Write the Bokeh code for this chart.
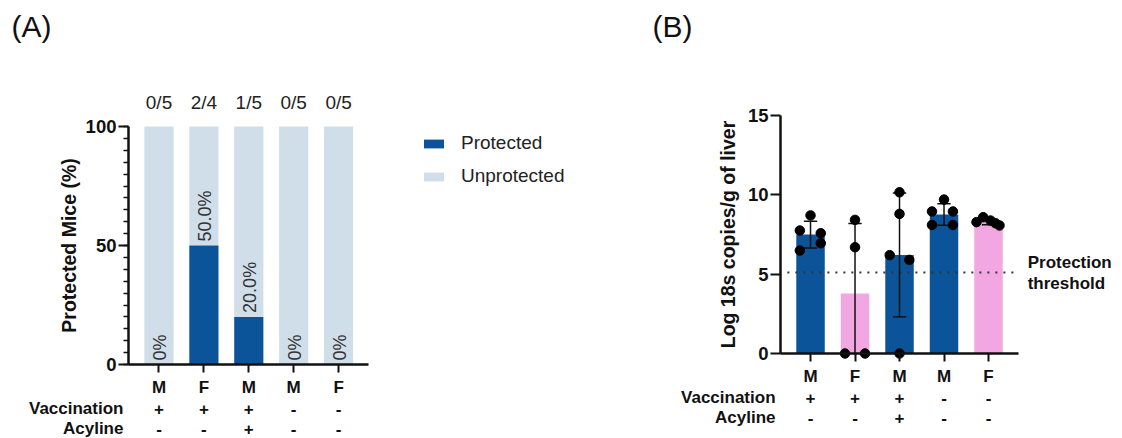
import math
import numpy as np
from bokeh.plotting import figure
from bokeh.layouts import row
from bokeh.models import Range1d, FixedTicker, ColumnDataSource, Legend, LegendItem
from bokeh.core.properties import value
from bokeh.embed import file_html
from bokeh.resources import INLINE

# ---------------- data ----------------
sex = ["M", "F", "M", "M", "F"]
vaccination = ["+", "+", "+", "-", "-"]
acyline = ["-", "-", "+", "-", "-"]
protected_n = [0, 2, 1, 0, 0]
total_n = [5, 4, 5, 5, 5]

liver_g1 = [8.7, 7.75, 7.58, 6.49, 6.95]
liver_g2 = [8.42, 6.7, 0.0, 0.0]
liver_g3 = [10.16, 8.8, 6.2, 5.9, 0.0]
liver_g4 = [9.7, 8.95, 8.95, 8.1, 8.1]
liver_g5 = [8.28, 8.59, 8.38, 8.21, 8.07]
threshold = 5.1
threshold_label = ["Protection", "threshold"]

# ---------------- style ----------------
FONT = "Liberation Sans"
DARK = "#0b5499"
LIGHT = "#d0deea"
PINK = "#f2a7e2"
INK = "#111111"
bar_colors_B = [DARK if s == "M" else PINK for s in sex]

xs = list(range(len(sex)))


def style_axes(p, yticks, yminor, ybounds, xaxis_left, xaxis_right, ylabel, label_standoff):
    yax = p.yaxis[0]
    xax = p.xaxis[0]
    yax.fixed_location = xaxis_left
    yax.bounds = ybounds
    yax.ticker = FixedTicker(ticks=yticks, minor_ticks=yminor)
    yax.axis_line_width = 2.5
    yax.axis_line_color = INK
    yax.major_tick_line_width = 2
    yax.major_tick_line_color = INK
    yax.minor_tick_line_width = 1.5
    yax.minor_tick_line_color = INK
    yax.major_tick_out = 10
    yax.major_tick_in = 0
    yax.minor_tick_out = 5
    yax.minor_tick_in = 0
    yax.major_label_text_font = FONT
    yax.major_label_text_font_style = "bold"
    yax.major_label_text_font_size = "18.5px"
    yax.major_label_text_color = INK
    yax.major_label_standoff = 2
    yax.axis_label = ylabel
    yax.axis_label_text_font = FONT
    yax.axis_label_text_font_style = "bold"
    yax.axis_label_text_font_size = "19.5px"
    yax.axis_label_text_color = INK
    yax.axis_label_standoff = label_standoff

    xax.fixed_location = 0
    xax.bounds = (xaxis_left, xaxis_right)
    xax.ticker = FixedTicker(ticks=xs, minor_ticks=[])
    xax.major_label_overrides = {i: s for i, s in enumerate(sex)}
    xax.axis_line_width = 2.5
    xax.axis_line_color = INK
    xax.major_tick_line_width = 2
    xax.major_tick_line_color = INK
    xax.major_tick_out = 8
    xax.major_tick_in = 0
    xax.minor_tick_out = 0
    xax.major_label_text_font = FONT
    xax.major_label_text_font_style = "bold"
    xax.major_label_text_font_size = "17px"
    xax.major_label_text_color = INK
    xax.major_label_standoff = 5

    p.grid.visible = False

    # treatment rows under the categories
    rows_src = ColumnDataSource(dict(x=xs, y=[0] * len(xs), v=vaccination, a=acyline))
    p.text(x="x", y="y", text="v", source=rows_src, y_offset=44, text_align="center",
           text_baseline="middle", text_font=value(FONT), text_font_style="bold",
           text_font_size="17px", text_color=INK)
    p.text(x="x", y="y", text="a", source=rows_src, y_offset=64, text_align="center",
           text_baseline="middle", text_font=value(FONT), text_font_style="bold",
           text_font_size="17px", text_color=INK)
    p.text(x=[xaxis_left, xaxis_left], y=[0, 0], text=["Vaccination", "Acyline"],
           x_offset=-5, y_offset=[44, 64], text_align="right", text_baseline="middle",
           text_font=value(FONT), text_font_style="bold", text_font_size="17px",
           text_color=INK)


def panel_tag(p, tag, dx):
    p.text(x=[p.x_range.start], y=[p.y_range.end], text=[tag], x_offset=dx, y_offset=26,
           text_align="left", text_baseline="middle", text_font=value(FONT),
           text_font_size="30px", text_color=INK)


def new_fig(w, xr, yr):
    p = figure(width=w, height=438, x_range=Range1d(*xr), y_range=Range1d(*yr),
               output_backend="svg", toolbar_location=None, min_border=0,
               outline_line_color=None, background_fill_color="white",
               border_fill_color="white")
    return p


# ---------------- panel A ----------------
pct = [100.0 * k / n for k, n in zip(protected_n, total_n)]
pct_txt = ["0%" if v == 0 else "%.1f%%" % v for v in pct]
frac_txt = ["%d/%d" % (k, n) for k, n in zip(protected_n, total_n)]

pA = new_fig(580, (-3.53, 9.388), (-31.09, 152.94))
srcA = ColumnDataSource(dict(x=xs, pct=pct, full=[100.0] * len(xs), pt=pct_txt, ft=frac_txt,
                             top100=[100.0] * len(xs)))
r_unp = pA.vbar(x="x", bottom="pct", top="full", width=0.65, source=srcA,
                fill_color=LIGHT, line_color=None)
r_pro = pA.vbar(x="x", bottom=0, top="pct", width=0.65, source=srcA,
                fill_color=DARK, line_color=None)
pA.text(x="x", y="pct", text="pt", source=srcA, angle=math.pi / 2, x_offset=1, y_offset=-4,
        text_align="left", text_baseline="middle", text_font=value(FONT),
        text_font_size="18px", text_color="#333333")
pA.text(x="x", y="top100", text="ft", source=srcA, y_offset=-24, text_align="center",
        text_baseline="middle", text_font=value(FONT), text_font_size="19px",
        text_color="#222222")

style_axes(pA, [0, 50, 100], list(range(0, 101, 5)), (0, 100), -0.68, 4.67,
           "Protected Mice (%)", 3)
panel_tag(pA, "(A)", 11)

legend = Legend(items=[LegendItem(label="Protected", renderers=[r_pro]),
                       LegendItem(label="Unprotected", renderers=[r_unp])],
                location=(421, 251), glyph_width=25, glyph_height=11, label_standoff=15,
                spacing=11, padding=0, margin=0, border_line_color=None,
                background_fill_alpha=0, label_text_font=FONT, label_text_font_size="19px",
                label_height=20, label_text_color="#222222")
pA.add_layout(legend)

# ---------------- panel B ----------------
groups_B = [liver_g1, liver_g2, liver_g3, liver_g4, liver_g5]
means = [float(np.mean(g)) for g in groups_B]
sds = [float(np.std(g, ddof=1)) for g in groups_B]
hi = [m + s for m, s in zip(means, sds)]
lo = [max(0.0, m - s) for m, s in zip(means, sds)]

pB = new_fig(542, (-5.169, 7.011), (-5.357, 22.248))
srcB = ColumnDataSource(dict(x=xs, m=means, c=bar_colors_B, hi=hi, lo=lo))
pB.vbar(x="x", bottom=0, top="m", width=0.64, source=srcB, fill_color="c", line_color=None)

# threshold
pB.segment(x0=[-0.52], y0=[threshold], x1=[4.65], y1=[threshold], line_color="#333333",
           line_width=2, line_dash="2 6")
pB.text(x=[4.88, 4.88], y=[threshold, threshold], text=threshold_label, y_offset=[-10, 11],
        text_align="left", text_baseline="middle", text_font=value(FONT),
        text_font_style="bold", text_font_size="17px", text_color=INK)

# error bars (mean ± SD, clipped at axis)
cap = 0.15
pB.segment(x0="x", y0="lo", x1="x", y1="hi", source=srcB, line_color=INK, line_width=1.5)
pB.segment(x0=[x - cap for x in xs], y0=hi, x1=[x + cap for x in xs], y1=hi,
           line_color=INK, line_width=1.5)
lo_caps = [(x, l) for x, l in zip(xs, lo) if l > 0]
pB.segment(x0=[x - cap for x, _ in lo_caps], y0=[l for _, l in lo_caps],
           x1=[x + cap for x, _ in lo_caps], y1=[l for _, l in lo_caps],
           line_color=INK, line_width=1.5)

# individual mice
jitter = [[0, -0.24, 0.23, -0.24, 0.23],
          [0, 0, -0.225, 0.225],
          [0, 0, -0.22, 0.22, 0],
          [0, -0.27, 0.2, -0.27, 0.2],
          [-0.27, -0.12, 0.045, 0.157, 0.247]]
px, py = [], []
for i, g in enumerate(groups_B):
    for j, v in enumerate(g):
        px.append(i + jitter[i][j])
        py.append(v)
pB.scatter(x=px, y=py, size=9.5, fill_color="black", line_color="black")

style_axes(pB, [0, 5, 10, 15], [], (0, 15), -0.674, 4.674,
           "Log 18s copies/g of liver", 6)
panel_tag(pB, "(B)", 72)

layout = row(pA, pB, spacing=0)
open("out.html", "w").write(file_html(layout, INLINE))
